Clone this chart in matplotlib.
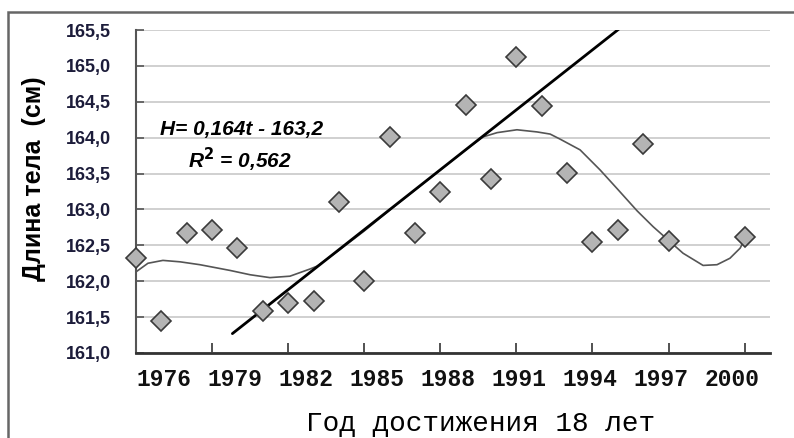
import matplotlib.pyplot as plt
from matplotlib.patches import Rectangle
from matplotlib.transforms import blended_transform_factory

# body length at age 18 by year
years = [1976, 1977, 1978, 1979, 1980, 1981, 1982, 1983, 1984, 1985, 1986,
         1987, 1988, 1989, 1990, 1991, 1992, 1993, 1994, 1995, 1996, 1997,
         2000]
heights = [162.33, 161.44, 162.67, 162.71, 162.46, 161.58, 161.70, 161.72,
           163.11, 162.00, 164.01, 162.67, 163.24, 164.45, 163.42, 165.12,
           164.44, 163.51, 162.55, 162.72, 163.91, 162.56, 162.61]

# linear trend segment
trend_years = [1979.8, 1995.1]
trend_heights = [161.27, 165.53]

# polynomial trend curve
curve_years = [1976.0, 1976.47, 1977.06, 1977.74, 1978.52, 1979.71, 1980.5,
               1981.28, 1982.07, 1982.86, 1983.14, 1984.0, 1985.0, 1986.0,
               1987.0, 1988.0, 1989.0, 1989.68, 1990.24, 1991.02, 1991.81,
               1992.33, 1992.72, 1993.51, 1994.3, 1994.97, 1995.76, 1996.39,
               1997.06, 1997.57, 1998.36, 1998.91, 1999.42, 1999.82, 2000.0]
curve_heights = [162.13, 162.25, 162.29, 162.27, 162.23, 162.15, 162.09,
                 162.05, 162.07, 162.17, 162.21, 162.43, 162.70, 162.99,
                 163.27, 163.55, 163.83, 164.01, 164.07, 164.11, 164.08,
                 164.05, 163.98, 163.83, 163.55, 163.29, 162.98, 162.76,
                 162.55, 162.39, 162.22, 162.23, 162.32, 162.46, 162.58]

xtick_years = [1976, 1979, 1982, 1985, 1988, 1991, 1994, 1997, 2000]
xtick_labels = ['1976', '1979', '1982', '1985', '1988', '1991', '1994',
                '1997', '2000']
ytick_vals = [161.0, 161.5, 162.0, 162.5, 163.0, 163.5, 164.0, 164.5,
              165.0, 165.5]
ytick_labels = ['161,0', '161,5', '162,0', '162,5', '163,0', '163,5',
                '164,0', '164,5', '165,0', '165,5']

fig = plt.figure(figsize=(7.94, 4.38), dpi=100)
ax = fig.add_axes([0.1713, 0.1941, 0.7985, 0.7374])

# outer frame
fig.patches.append(Rectangle((8 / 794, -0.1), 1.2, 1.1 - 12 / 438,
                             transform=fig.transFigure, fill=False,
                             edgecolor='#666666', linewidth=1.8))

ax.set_xlim(1976, 2001)
ax.set_ylim(161.0, 165.5)
ax.yaxis.grid(True, color='#c8c8c8', linewidth=1.2)
ax.set_axisbelow(True)
for side in ('top', 'right'):
    ax.spines[side].set_visible(False)
ax.spines['left'].set_color('#555555')
ax.spines['left'].set_linewidth(1.5)
ax.spines['bottom'].set_color('#333333')
ax.spines['bottom'].set_linewidth(2)

ax.set_yticks(ytick_vals)
ax.set_yticklabels(ytick_labels, fontfamily='Liberation Sans',
                   fontweight='bold', fontsize=13, color='#1c1c3a')
ax.tick_params(axis='y', direction='in', length=6, width=1.2,
               color='#555555', pad=18)
ax.set_xticks(xtick_years)
ax.set_xticklabels([])
ax.tick_params(axis='x', direction='in', length=7, width=1.2,
               color='#333333')

# year labels sit a little apart from their ticks
trans = blended_transform_factory(ax.transData, ax.transAxes)
for yr, lab in zip(xtick_years, xtick_labels):
    ax.text(1977.12 + (yr - 1976) * 0.932, -0.082, lab, transform=trans,
            ha='center', va='center', fontfamily='Liberation Mono',
            fontweight='bold', fontsize=16.5, color='#111111')

ax.plot(curve_years, curve_heights, color='#555555', linewidth=1.2)

ax.plot(trend_years, trend_heights, color='black', linewidth=2,
        solid_capstyle='round')

ax.plot(years, heights, linestyle='none', marker='D', markersize=10,
        markerfacecolor='#b4b4b4', markeredgecolor='#3a3a3a',
        markeredgewidth=1.2, clip_on=False, zorder=5)

ax.text(241.5 / 794, 1 - 130 / 438, 'H= 0,164t - 163,2',
        transform=fig.transFigure, ha='center', va='center',
        fontfamily='Liberation Sans', fontstyle='italic', fontweight='bold',
        fontsize=15)
ax.text(240 / 794, 1 - 160 / 438, r'R$^{\mathbf{2}}$ = 0,562',
        transform=fig.transFigure, ha='center', va='center',
        fontfamily='Liberation Sans', fontstyle='italic', fontweight='bold',
        fontsize=15)

fig.text(34 / 794, 1 - 179 / 438, 'Длина тела  (см)', rotation=90,
         ha='center', va='center', fontfamily='Liberation Sans',
         fontweight='bold', fontsize=18)
fig.text(481 / 794, 1 - 424 / 438, 'Год достижения 18 лет',
         ha='center', va='center', fontfamily='Liberation Mono',
         fontsize=20, color='black')

fig.savefig('out.png', dpi=100)
